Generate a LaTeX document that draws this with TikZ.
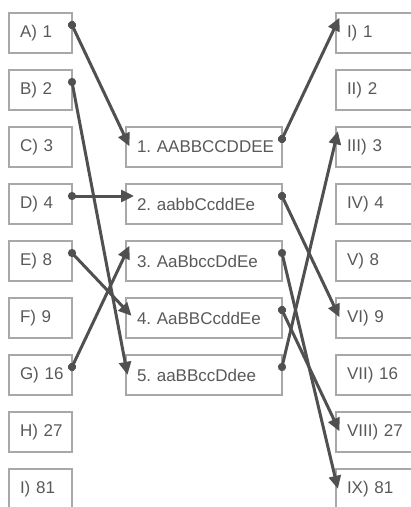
\documentclass[tikz,border=0pt]{standalone}
\usepackage{fontspec}
\setmainfont{Liberation Sans}
\usetikzlibrary{arrows.meta}
\definecolor{boxgray}{HTML}{A8A8A8}
\definecolor{textgray}{HTML}{595959}
\definecolor{linkgray}{HTML}{505050}

\begin{document}
\begin{tikzpicture}[x=1pt, y=1pt,
	box/.style={draw=boxgray, line width=2pt, anchor=north west, outer sep=0pt,
		minimum height=40pt, inner xsep=11pt, align=left, text=textgray,
		font=\fontsize{17pt}{20pt}\selectfont\frenchspacing},
	leftbox/.style={box, text width=41pt},
	midbox/.style={box, text width=134pt},
	rightbox/.style={box, text width=58pt},
	link/.style={draw=linkgray, line width=3pt,
		{Circle[length=8pt]}-{Triangle[length=13pt,width=12pt]},
		shorten <=-4pt, shorten >=-8pt}]

			\clip (0, 0) rectangle (411, -507);

			% Draw left column
			\node[leftbox] (la) at (9, -13) {\mbox{A) 1}};
			\node[leftbox] (lb) at (9, -70) {\mbox{B) 2}};
			\node[leftbox] (lc) at (9, -127) {\mbox{C) 3}};
			\node[leftbox] (ld) at (9, -184) {\mbox{D) 4}};
			\node[leftbox] (le) at (9, -241) {\mbox{E) 8}};
			\node[leftbox] (lf) at (9, -298) {\mbox{F) 9}};
			\node[leftbox] (lg) at (9, -355) {\mbox{G) 16}};
			\node[leftbox] (lh) at (9, -412) {\mbox{H) 27}};
			\node[leftbox] (li) at (9, -469) {\mbox{I) 81}};

			% Draw middle column
			\node[midbox] (m1) at (126, -127) {\mbox{1. AABBCCDDEE}};
			\node[midbox] (m2) at (126, -184) {\mbox{2. aabbCcddEe}};
			\node[midbox] (m3) at (126, -241) {\mbox{3. AaBbccDdEe}};
			\node[midbox] (m4) at (126, -298) {\mbox{4. AaBBCcddEe}};
			\node[midbox] (m5) at (126, -355) {\mbox{5. aaBBccDdee}};

			% Draw right column
			\node[rightbox] (r1) at (336, -13) {\mbox{I) 1}};
			\node[rightbox] (r2) at (336, -70) {\mbox{II) 2}};
			\node[rightbox] (r3) at (336, -127) {\mbox{III) 3}};
			\node[rightbox] (r4) at (336, -184) {\mbox{IV) 4}};
			\node[rightbox] (r5) at (336, -241) {\mbox{V) 8}};
			\node[rightbox] (r6) at (336, -298) {\mbox{VI) 9}};
			\node[rightbox] (r7) at (336, -355) {\mbox{VII) 16}};
			\node[rightbox] (r8) at (336, -412) {\mbox{VIII) 27}};
			\node[rightbox] (r9) at (336, -469) {\mbox{IX) 81}};

			% Draw links from left to middle
			\draw[link] ([yshift=8pt]la.east) -- ([yshift=8pt]m1.west);
			\draw[link] ([yshift=8pt]lb.east) -- ([yshift=8pt]m5.west);
			\draw[link] ([yshift=8pt]ld.east) -- ([yshift=8pt]m2.west);
			\draw[link] ([yshift=8pt]le.east) -- ([yshift=8pt]m4.west);
			\draw[link] ([yshift=8pt]lg.east) -- ([yshift=8pt]m3.west);

			% Draw links from middle to right
			\draw[link] ([yshift=8pt]m1.east) -- ([yshift=8pt]r1.west);
			\draw[link] ([yshift=8pt]m2.east) -- ([yshift=8pt]r6.west);
			\draw[link] ([yshift=8pt]m3.east) -- ([yshift=8pt]r9.west);
			\draw[link] ([yshift=8pt]m4.east) -- ([yshift=8pt]r8.west);
			\draw[link] ([yshift=8pt]m5.east) -- ([yshift=8pt]r3.west);
		\end{tikzpicture}
\end{document}
